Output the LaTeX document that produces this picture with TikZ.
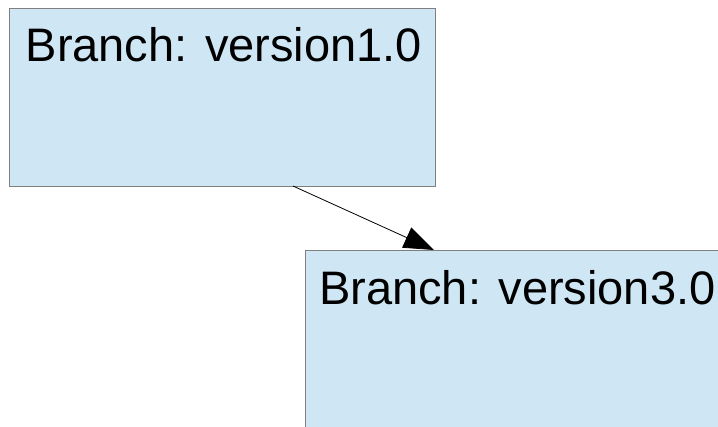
\documentclass[tikz,border=0pt]{standalone}
\usepackage{fontspec}
\setmainfont{Liberation Sans}
\usetikzlibrary{arrows.meta}
\definecolor{boxfill}{HTML}{CFE7F5}
\definecolor{boxline}{HTML}{7F7F7F}
\tikzset{
  branchbox/.style={draw=boxline, fill=boxfill, line width=1pt},
  branchlabel/.style={anchor=base west, inner sep=0pt, font=\fontsize{47}{56}\selectfont},
  link/.style={line width=0.8pt, -{Triangle[length=30pt,width=22pt]}}
}
\begin{document}
\begin{tikzpicture}[x=1pt,y=-1pt]
  \useasboundingbox (0,0) rectangle (718,426);
  % first branch
  \draw[branchbox] (9,8) rectangle (435,186);
  \node[branchlabel] (b1) at (25.5,61) {Branch: version1.0};
  % second branch, running past the right and bottom edges
  \draw[branchbox] (305,250) rectangle (740,450);
  \node[branchlabel] (b2) at (319,304) {Branch: version3.0};
  \coordinate (from) at (293,186);
  \coordinate (to) at (434,250);
  \draw[link] (from) -- (to);
\end{tikzpicture}
\end{document}
